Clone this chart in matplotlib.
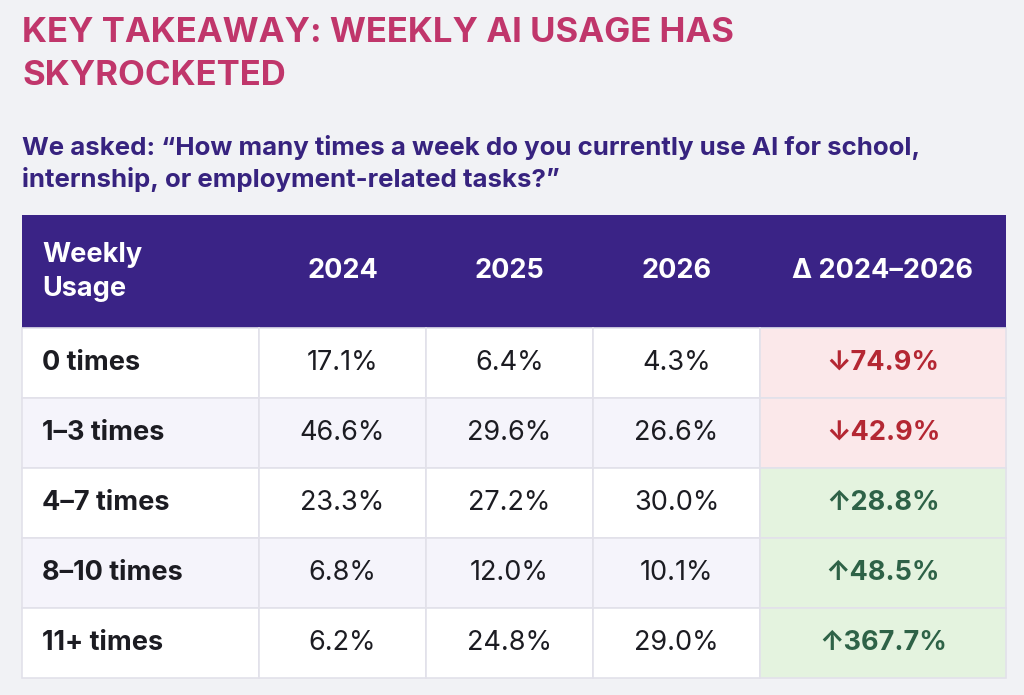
import matplotlib
matplotlib.use("Agg")
import matplotlib.pyplot as plt
from matplotlib.patches import Rectangle

title_lines = ["KEY TAKEAWAY: WEEKLY AI USAGE HAS", "SKYROCKETED"]
subtitle_lines = ["We asked: \u201cHow many times a week do you currently use AI for school,",
                  "internship, or employment-related tasks?\u201d"]
header = ["Weekly\nUsage", "2024", "2025", "2026", "\u0394 2024\u20132026"]
categories = ["0 times", "1\u20133 times", "4\u20137 times", "8\u201310 times", "11+ times"]
v2024 = [17.1, 46.6, 23.3, 6.8, 6.2]
v2025 = [6.4, 29.6, 27.2, 12.0, 24.8]
v2026 = [4.3, 26.6, 30.0, 10.1, 29.0]
delta = [-74.9, -42.9, 28.8, 48.5, 367.7]

BG = "#f1f2f5"
HEAD = "#3a2386"
TITLE = "#c0366b"
SUB = "#37237f"
ROW_A = "#ffffff"
ROW_B = "#f5f4fb"
NEG_BG = "#fbe8ea"
POS_BG = "#e4f3df"
NEG_TX = "#b42733"
POS_TX = "#2e6247"
GRID = "#e2e1ea"

FONT = ["Inter", "DejaVu Sans"]

fig = plt.figure(figsize=(10.24, 6.95), dpi=100, facecolor=BG)
ax = fig.add_axes([0, 0, 1, 1])
ax.set_xlim(0, 1024)
ax.set_ylim(695, 0)
ax.axis("off")

# titles
for i, t in enumerate(title_lines):
    ax.text(22, 33 + i * 43, t, fontsize=25, fontweight="bold", color=TITLE,
            family=FONT, va="center", ha="left")
for i, t in enumerate(subtitle_lines):
    ax.text(22, 148 + i * 32, t, fontsize=18.6, fontweight="bold", color=SUB,
            family=FONT, va="center", ha="left")

col_edges = [22, 259, 426, 593, 760, 1006]
top = 215
head_h = 113
row_h = 70
FS = 19.5

ax.add_patch(Rectangle((col_edges[0], top), col_edges[-1] - col_edges[0], head_h,
                       facecolor=HEAD, edgecolor="none"))
for j, h in enumerate(header):
    if j == 0:
        ax.text(col_edges[0] + 20, top + head_h / 2, h, fontsize=FS, fontweight="bold",
                color="white", family=FONT, va="center", ha="left", linespacing=1.4)
    else:
        ax.text((col_edges[j] + col_edges[j + 1]) / 2, top + head_h / 2, h, fontsize=FS,
                fontweight="bold", color="white", family=FONT, va="center", ha="center")

for i, cat in enumerate(categories):
    y0 = top + head_h + i * row_h
    yc = y0 + row_h / 2
    base = ROW_A if i % 2 == 0 else ROW_B
    for j in range(5):
        x0 = col_edges[j]
        w = col_edges[j + 1] - x0
        if j == 4:
            fc = NEG_BG if delta[i] < 0 else POS_BG
        else:
            fc = base
        ax.add_patch(Rectangle((x0, y0), w, row_h, facecolor=fc, edgecolor=GRID, linewidth=1.2))
    ax.text(col_edges[0] + 20, yc, cat, fontsize=FS, fontweight="bold", color="#1c1c22",
            family=FONT, va="center", ha="left")
    for j, vals in enumerate([v2024, v2025, v2026], start=1):
        ax.text((col_edges[j] + col_edges[j + 1]) / 2, yc, f"{vals[i]:.1f}%", fontsize=FS,
                color="#1c1c22", family=FONT, va="center", ha="center")
    d = delta[i]
    arrow = "\u2193" if d < 0 else "\u2191"
    ax.text((col_edges[4] + col_edges[5]) / 2, yc, f"{arrow}{abs(d):.1f}%", fontsize=FS,
            fontweight="bold", color=NEG_TX if d < 0 else POS_TX, family=FONT,
            va="center", ha="center")

fig.savefig("out.png", dpi=100, facecolor=BG)
